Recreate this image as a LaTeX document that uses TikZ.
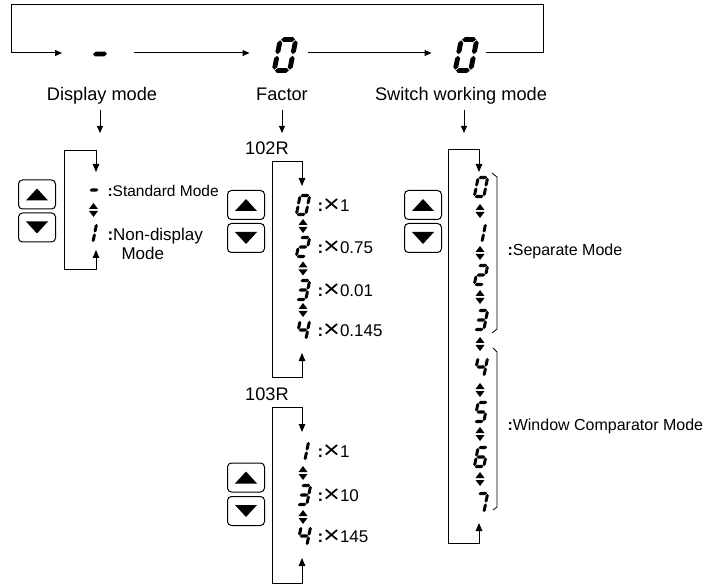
\documentclass[tikz,border=0pt]{standalone}
\usepackage{fontspec}
\setmainfont{Liberation Sans}
\usepackage{graphicx}
\usetikzlibrary{arrows.meta}
\newcommand\HSeg[1]{\fill (-0.45,#1) -- (-0.29,#1+0.16) -- (0.29,#1+0.16) -- (0.45,#1) -- (0.29,#1-0.16) -- (-0.29,#1-0.16) -- cycle;}
\newcommand\VSeg[3]{\fill (#1,#2+0.05) -- (#1+0.16,#2+0.21) -- (#1+0.16,#3-0.21) -- (#1,#3-0.05) -- (#1-0.16,#3-0.21) -- (#1-0.16,#2+0.21) -- cycle;}
\newcommand\sgA{\HSeg{1}}
\newcommand\sgG{\HSeg{0}}
\newcommand\sgD{\HSeg{-1}}
\newcommand\sgB{\VSeg{0.5}{0}{1}}
\newcommand\sgC{\VSeg{0.5}{-1}{0}}
\newcommand\sgE{\VSeg{-0.5}{-1}{0}}
\newcommand\sgF{\VSeg{-0.5}{0}{1}}
\newcommand\sdig[4][]{\begin{scope}[shift={(#2)},#1,scale=#3,yscale=-1,xslant=-0.2]#4\end{scope}}
\newcommand\tms{\raisebox{-1.2pt}{\scalebox{1.7}[1.45]{×}}}
\newcommand\cln{\textbf{:}}
\begin{document}
\begin{tikzpicture}[x=1pt,y=-1pt,line width=1pt,
  arr/.style={-{Triangle[length=7pt,width=6pt]}},
  lp/.style={{Triangle[length=8pt,width=6.5pt]}-{Triangle[length=8pt,width=6.5pt]}},
  btn/.style={draw,rounded corners=4pt,minimum width=37pt,minimum height=29pt,inner sep=0pt},
  dig/.style={minimum width=14pt,minimum height=22pt,inner sep=0pt},
  bigdig/.style={minimum width=27pt,minimum height=36pt,inner sep=0pt},
  lab/.style={font=\fontsize{18.2}{20}\selectfont,inner sep=0pt,anchor=base},
  side/.style={font=\fontsize{17}{19}\selectfont,inner sep=0pt,anchor=base west},
  updown/.pic={\fill (-4.5,-1) -- (4.5,-1) -- (0,-7) -- cycle;
                \fill (-4.5,1) -- (4.5,1) -- (0,7) -- cycle;},
  uptri/.pic={\fill (-11,6) -- (11,6) -- (0,-6) -- cycle;},
  dntri/.pic={\fill (-11,-6) -- (11,-6) -- (0,6) -- cycle;}]
\useasboundingbox (0,0) rectangle (723,585);

% ---------- top sequence ----------
\node[bigdig] (tdash) at (100,53) {};
\node[bigdig] (tf) at (285,53) {};
\node[bigdig] (tw) at (466,53) {};
\sdig[yshift=-1pt]{tdash}{15.5}{\sgG}
\sdig[yshift=-2pt]{tf}{15.5}{\sgA\sgB\sgC\sgD\sgE\sgF}
\sdig[yshift=-2pt]{tw}{15.5}{\sgA\sgB\sgC\sgD\sgE\sgF}
\coordinate (tr) at (543,5);
\coordinate (tl) at (11,5);
\draw[arr,shorten <=5.5pt,shorten >=24pt] (tw.east) -| (tr) -| (tl) |- (tdash.west);
\draw[arr,shorten <=20pt,shorten >=21.5pt] (tdash.east) -- (tf.west);
\draw[arr,shorten <=8.5pt,shorten >=20.5pt] (tf.east) -- (tw.west);

\node[lab] (dlab) at (102,101) {Display mode};
\node[lab] (flab) at (282,101) {Factor};
\node[lab] (wlab) at (461,101) {Switch working mode};
\coordinate (dA) at (100,133);
\coordinate (fA) at (282,133);
\coordinate (wA) at (464,133);
\draw[arr] (dA) ++(0,-23) -- (dA);
\draw[arr] (fA) ++(0,-23) -- (fA);
\draw[arr] (wA) ++(0,-23) -- (wA);

% ---------- display mode ----------
\node[btn] (dU) at (37,194.5) {};
\node[btn] (dD) at (37,227.5) {};
\pic at (dU) {uptri};
\pic at (dD) {dntri};
\coordinate (dIn) at (96,172);
\coordinate (dOut) at (96,250);
\coordinate (dTL) at (64,151);
\coordinate (dBL) at (64,270);
\draw[lp] (dOut) |- (dBL) |- (dTL) -| (dIn);
\node[dig] (d0) at (94,190) {};
\node[dig] (d1) at (90,233) {};
\sdig{d0}{9.5}{\sgG}
\sdig{d1}{9.5}{\sgB\sgC}
\pic at (93.5,210) {updown};
\node[side,font=\fontsize{15.5}{18}\selectfont] (dl0) at (107,196.5) {\cln Standard Mode};
\node[side] (dl1) at (107,241) {\cln Non-display};
\node[side] (dl2) at (121,260) {Mode};

% ---------- factor 102R ----------
\node[lab] (r102) at (267,155) {102R};
\node[btn] (fU) at (246,205) {};
\node[btn] (fD) at (246,238) {};
\pic at (fU) {uptri};
\pic at (fD) {dntri};
\coordinate (fIn) at (302,186);
\coordinate (fOut) at (302,353);
\coordinate (fTL) at (272,162);
\coordinate (fBL) at (272,377);
\draw[lp] (fOut) |- (fBL) |- (fTL) -| (fIn);
\node[dig] (f0) at (303,205) {};
\node[dig] (f2) at (303,247) {};
\node[dig] (f3) at (303,290) {};
\node[dig] (f4) at (303,330) {};
\sdig{f0}{9.5}{\sgA\sgB\sgC\sgD\sgE\sgF}
\sdig{f2}{9.5}{\sgA\sgB\sgG\sgE\sgD}
\sdig{f3}{9.5}{\sgA\sgB\sgG\sgC\sgD}
\sdig{f4}{9.5}{\sgF\sgG\sgB\sgC}
\pic at (303,226) {updown};
\pic at (303,268.5) {updown};
\pic at (303,310) {updown};
\node[side] (fl0) at (317,211.5) {\cln\tms1};
\node[side] (fl2) at (317,253.5) {\cln\tms0.75};
\node[side] (fl3) at (317,296.5) {\cln\tms0.01};
\node[side] (fl4) at (317,336.5) {\cln\tms0.145};

% ---------- factor 103R ----------
\node[lab] (r103) at (267,400) {103R};
\node[btn] (gU) at (246,477.5) {};
\node[btn] (gD) at (246,511) {};
\pic at (gU) {uptri};
\pic at (gD) {dntri};
\coordinate (gIn) at (302,432);
\coordinate (gOut) at (302,558);
\coordinate (gTL) at (272,407);
\coordinate (gBL) at (272,583);
\draw[lp] (gOut) |- (gBL) |- (gTL) -| (gIn);
\node[dig] (g1) at (302,451) {};
\node[dig] (g3) at (304,495) {};
\node[dig] (g4) at (304,536) {};
\sdig{g1}{9.5}{\sgB\sgC}
\sdig{g3}{9.5}{\sgA\sgB\sgG\sgC\sgD}
\sdig{g4}{9.5}{\sgF\sgG\sgB\sgC}
\pic at (303,473) {updown};
\pic at (303,517) {updown};
\node[side] (gl1) at (317,457.5) {\cln\tms1};
\node[side] (gl3) at (317,501.5) {\cln\tms10};
\node[side] (gl4) at (317,542.5) {\cln\tms145};

% ---------- switch working mode ----------
\node[btn] (wU) at (423,205) {};
\node[btn] (wD) at (423,238) {};
\pic at (wU) {uptri};
\pic at (wD) {dntri};
\coordinate (wIn) at (479,172);
\coordinate (wOut) at (479,523);
\coordinate (wTL) at (448,150);
\coordinate (wBL) at (448,543);
\draw[lp] (wOut) |- (wBL) |- (wTL) -| (wIn);
\node[dig] (w0) at (481,187) {};
\node[dig] (w1) at (479,233) {};
\node[dig] (w2) at (481,275) {};
\node[dig] (w3) at (481,320) {};
\node[dig] (w4) at (481,367) {};
\node[dig] (w5) at (481,412) {};
\node[dig] (w6) at (481,457) {};
\node[dig] (w7) at (481,503) {};
\sdig{w0}{9.5}{\sgA\sgB\sgC\sgD\sgE\sgF}
\sdig{w1}{9.5}{\sgB\sgC}
\sdig{w2}{9.5}{\sgA\sgB\sgG\sgE\sgD}
\sdig{w3}{9.5}{\sgA\sgB\sgG\sgC\sgD}
\sdig{w4}{9.5}{\sgF\sgG\sgB\sgC}
\sdig{w5}{9.5}{\sgA\sgF\sgG\sgC\sgD}
\sdig{w6}{9.5}{\sgA\sgF\sgG\sgE\sgC\sgD}
\sdig{w7}{9.5}{\sgA\sgB\sgC}
\pic at (480,211) {updown};
\pic at (480,253) {updown};
\pic at (480,297) {updown};
\pic at (480,344) {updown};
\pic at (480,390) {updown};
\pic at (480,434) {updown};
\pic at (480,479) {updown};
\draw[line width=0.8pt] (492,173) -- (497,177) -- (497,329) -- (492,333);
\draw[line width=0.8pt] (493,348) -- (497,352) -- (497,507) -- (493,510);
\node[side,font=\fontsize{16}{18}\selectfont] (wl1) at (507,256) {\cln Separate Mode};
\node[side,font=\fontsize{16}{18}\selectfont] (wl2) at (507,430) {\cln Window Comparator Mode};
\end{tikzpicture}
\end{document}
